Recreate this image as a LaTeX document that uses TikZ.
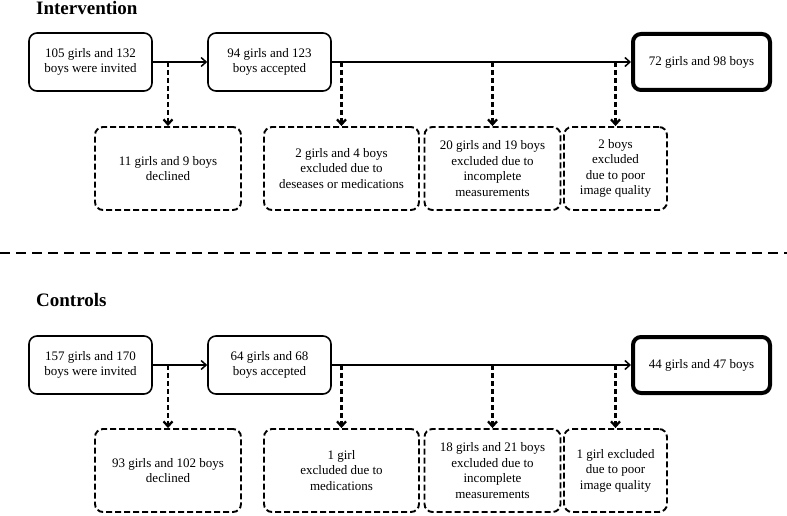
\documentclass[tikz,border=0pt]{standalone}
\usepackage{fontspec}
\setmainfont{Liberation Serif}
\usetikzlibrary{arrows.meta}

\begin{document}
\begin{tikzpicture}[x=1pt, y=-1pt,
    box/.style={draw, rounded corners=8pt, line width=1.6pt, align=center, inner sep=0pt,
      minimum width=123pt, minimum height=58pt, font=\fontsize{13}{15.5}\selectfont},
    endbox/.style={box, line width=4pt, minimum width=137pt, minimum height=56pt},
    outbox/.style={box, line width=1.9pt, dash pattern=on 6pt off 3pt, minimum height=83pt},
    flow/.style={line width=1.5pt, -{Straight Barb[length=5pt, width=9pt]}},
    drop/.style={flow, line width=2.3pt, dash pattern=on 5pt off 3pt},
    title/.style={anchor=west, inner sep=0pt, font=\fontsize{19}{22}\selectfont\bfseries}]
    \useasboundingbox (0,0) rectangle (787,516);

    % intervention group
    \node[title] (tint) at (36,8.5) {Intervention};
    \node[box] (inv1) at (90.5,62) {105 girls and 132\\boys were invited};
    \node[box] (acc1) at (269.5,62) {94 girls and 123\\boys accepted};
    \node[endbox] (fin1) at (701.5,62) {72 girls and 98 boys};
    \node[outbox, minimum width=146pt] (dec1) at (168,168.5) {11 girls and 9 boys\\declined};
    \node[outbox, minimum width=155pt] (med1) at (341.5,168.5) {2 girls and 4 boys\\excluded due to\\deseases or medications};
    \node[outbox, minimum width=136pt] (inc1) at (492.5,168.5) {20 girls and 19 boys\\excluded due to\\incomplete\\measurements};
    \node[outbox, minimum width=103pt] (img1) at (615.5,168.5) {2 boys\\excluded\\due to poor\\image quality};
    \draw[flow] (inv1) -- (acc1);
    \draw[flow] (acc1) -- (fin1);
    \coordinate (d1) at (dec1.north |- inv1.east);
    \coordinate (m1) at (med1.north |- acc1.east);
    \coordinate (c1) at (inc1.north |- acc1.east);
    \coordinate (q1) at (img1.north |- acc1.east);
    \draw[drop] (d1) -- (dec1);
    \draw[drop] (m1) -- (med1);
    \draw[drop] (c1) -- (inc1);
    \draw[drop] (q1) -- (img1);

    \draw[line width=2.5pt, dash pattern=on 10pt off 6pt] (0,253) -- (787,253);

    % control group
    \node[title] (tcon) at (36,300) {Controls};
    \node[box] (inv2) at (90.5,365) {157 girls and 170\\boys were invited};
    \node[box] (acc2) at (269.5,365) {64 girls and 68\\boys accepted};
    \node[endbox] (fin2) at (701.5,365) {44 girls and 47 boys};
    \node[outbox, minimum width=146pt] (dec2) at (168,470.5) {93 girls and 102 boys\\declined};
    \node[outbox, minimum width=155pt] (med2) at (341.5,470.5) {1 girl\\excluded due to\\medications};
    \node[outbox, minimum width=136pt] (inc2) at (492.5,470.5) {18 girls and 21 boys\\excluded due to\\incomplete\\measurements};
    \node[outbox, minimum width=103pt] (img2) at (615.5,470.5) {1 girl excluded\\due to poor\\image quality};
    \draw[flow] (inv2) -- (acc2);
    \draw[flow] (acc2) -- (fin2);
    \coordinate (d2) at (dec2.north |- inv2.east);
    \coordinate (m2) at (med2.north |- acc2.east);
    \coordinate (c2) at (inc2.north |- acc2.east);
    \coordinate (q2) at (img2.north |- acc2.east);
    \draw[drop] (d2) -- (dec2);
    \draw[drop] (m2) -- (med2);
    \draw[drop] (c2) -- (inc2);
    \draw[drop] (q2) -- (img2);
\end{tikzpicture}
\end{document}
